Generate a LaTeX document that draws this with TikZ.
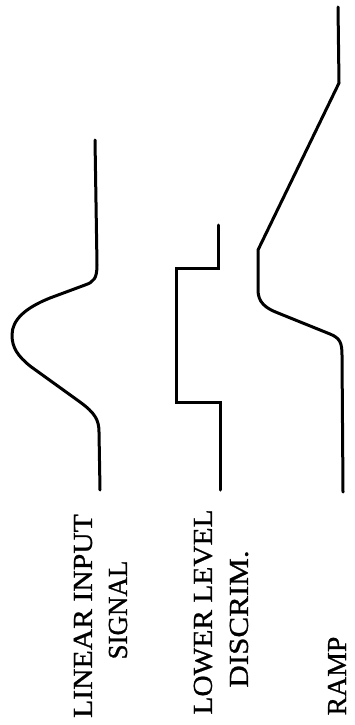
\documentclass[tikz,border=0pt]{standalone}
\usepackage{fontspec}
\setmainfont{Liberation Serif}
\newfontfamily\lblfont[FakeBold=0.8]{Liberation Serif}
\begin{document}
\begin{tikzpicture}[x=1pt,y=-1pt,
  wave/.style={line width=3pt,line join=round,line cap=round},
  sqwave/.style={line width=3pt,line join=miter,line cap=round},
  lbl/.style={rotate=90,inner sep=0pt,anchor=center,font=\lblfont\fontsize{27.5}{27.5}\selectfont}]
\useasboundingbox (0,0) rectangle (354,725);
% linear input signal
\coordinate (s1a) at (95,140);
\coordinate (s1b) at (100,490);
\draw[wave] (s1a) -- (97,265) .. controls (97,278) and (94,282) .. (85,285)
  -- (50,298) .. controls (25,308) and (12,320) .. (12,335)
  .. controls (12,348) and (18,356) .. (30,366)
  -- (80,402) .. controls (95,413) and (99,420) .. (99,432) -- (s1b);
% lower level discriminator
\coordinate (s2a) at (218,225);
\coordinate (s2b) at (220,490);
\draw[sqwave] (s2a) -- (218,268) -- (176,268) -- (176,402) -- (220,402) -- (s2b);
% ramp
\coordinate (s3a) at (338,7);
\coordinate (s3b) at (343,492);
\draw[wave] (s3a) -- (339,83) -- (258,250) -- (258,290)
  .. controls (258,302) and (265,308) .. (278,313)
  -- (330,334) .. controls (340,338) and (342,343) .. (342,355) -- (s3b);
% labels
\node[lbl] (l1) at (83,616) {\scalebox{1.08}[1]{LINEAR INPUT}};
\node[lbl] (l2) at (118,610) {\scalebox{0.98}[1]{SIGNAL}};
\node[lbl] (l3) at (203,612) {\scalebox{1.07}[1]{LOWER LEVEL}};
\node[lbl] (l4) at (239,619) {\scalebox{1.13}[1]{DISCRIM.}};
\node[lbl] (l5) at (337,676) {\scalebox{1.01}[1]{RAMP}};
\end{tikzpicture}
\end{document}
